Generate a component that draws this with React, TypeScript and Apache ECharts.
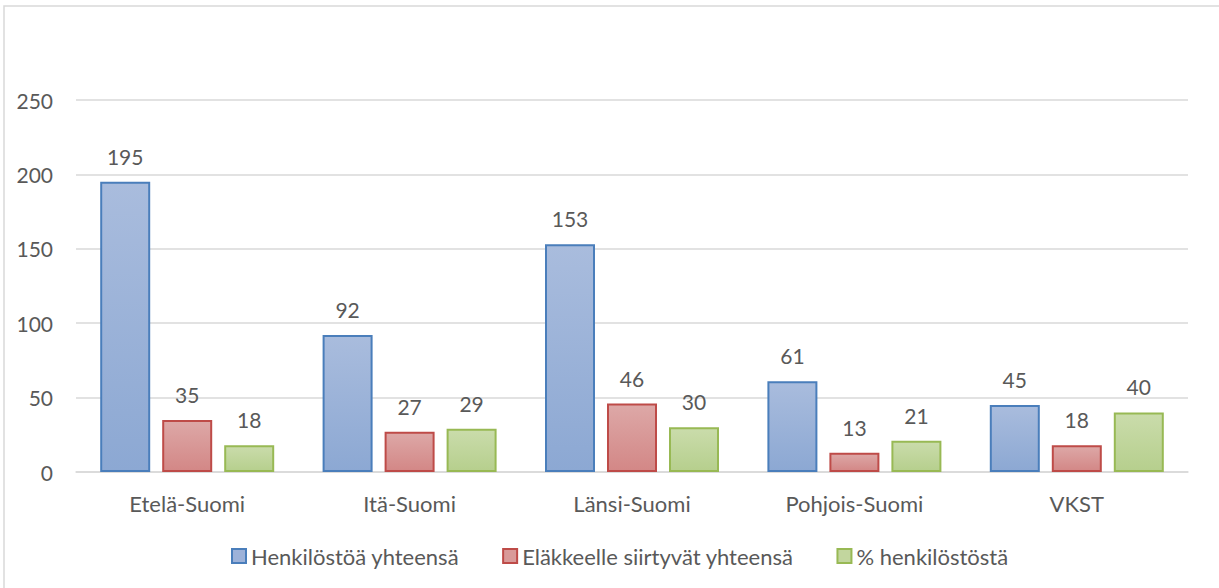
import React, { useEffect, useRef } from "react";
import * as echarts from "echarts";

const categories = ["Etelä-Suomi", "Itä-Suomi", "Länsi-Suomi", "Pohjois-Suomi", "VKST"];
const henkilosto = [195, 92, 153, 61, 45];
const elakkeelle = [35, 27, 46, 13, 18];
const prosentti = [18, 29, 30, 21, 40];
const seriesNames = ["Henkilöstöä yhteensä", "Eläkkeelle siirtyvät yhteensä", "% henkilöstöstä"];

const FONT = "Lato, 'Noto Sans', sans-serif";

function grad(top: string, bottom: string) {
  return new echarts.graphic.LinearGradient(0, 0, 0, 1, [
    { offset: 0, color: top },
    { offset: 1, color: bottom },
  ]);
}

export default function App() {
  const ref = useRef<HTMLDivElement>(null);
  useEffect(() => {
    if (!ref.current) return;
    const chart = echarts.init(ref.current, null, { renderer: "svg" });
    const label = {
      show: true,
      position: "top" as const,
      distance: 15,
      color: "#595959",
      fontSize: 21,
      fontFamily: FONT,
    };
    const mk = (name: string, data: number[], top: string, bottom: string, border: string) => ({
      name,
      type: "bar" as const,
      data,
      barWidth: 50,
      barGap: "24%",
      itemStyle: { color: grad(top, bottom), borderColor: border, borderWidth: 2 },
      label,
    });
    chart.setOption({
      animation: false,
      graphic: [
        {
          type: "rect",
          shape: { x: 4, y: 6, width: 1220, height: 590 },
          style: { fill: "none", stroke: "#d9d9d9", lineWidth: 1.5 },
          silent: true,
        },
      ],
      grid: { left: 76, right: 31, top: 100, bottom: 116 },
      legend: {
        top: 540,
        left: 226,
        itemWidth: 14,
        itemHeight: 14,
        itemGap: 43,
        textStyle: { color: "#595959", fontSize: 22, fontFamily: FONT },
        data: [
          { name: seriesNames[0], icon: "rect", itemStyle: { color: "#9db2d9", borderColor: "#4a7ebb", borderWidth: 2 } },
          { name: seriesNames[1], icon: "rect", itemStyle: { color: "#d99a99", borderColor: "#be4b48", borderWidth: 2 } },
          { name: seriesNames[2], icon: "rect", itemStyle: { color: "#c2d69e", borderColor: "#98b954", borderWidth: 2 } },
        ],
      },
      xAxis: {
        type: "category",
        data: categories,
        axisLine: { lineStyle: { color: "#d9d9d9", width: 1.5 } },
        axisTick: { show: false },
        axisLabel: { color: "#595959", fontSize: 22, fontFamily: FONT, margin: 20 },
      },
      yAxis: {
        type: "value",
        min: 0,
        max: 250,
        interval: 50,
        axisLine: { show: false },
        axisTick: { show: false },
        axisLabel: { color: "#595959", fontSize: 21, fontFamily: FONT, margin: 23 },
        splitLine: { lineStyle: { color: "#d9d9d9", width: 1.5 } },
      },
      series: [
        mk(seriesNames[0], henkilosto, "#a9bcdd", "#8ca8d3", "#4a7ebb"),
        mk(seriesNames[1], elakkeelle, "#dda8a7", "#d38786", "#be4b48"),
        mk(seriesNames[2], prosentti, "#cadcab", "#b6cf8d", "#98b954"),
      ],
    });
    return () => chart.dispose();
  }, []);
  return (
    <div
      ref={ref}
      style={{ position: "absolute", left: 0, top: 0, width: 1219, height: 588, background: "#fff" }}
    />
  );
}
